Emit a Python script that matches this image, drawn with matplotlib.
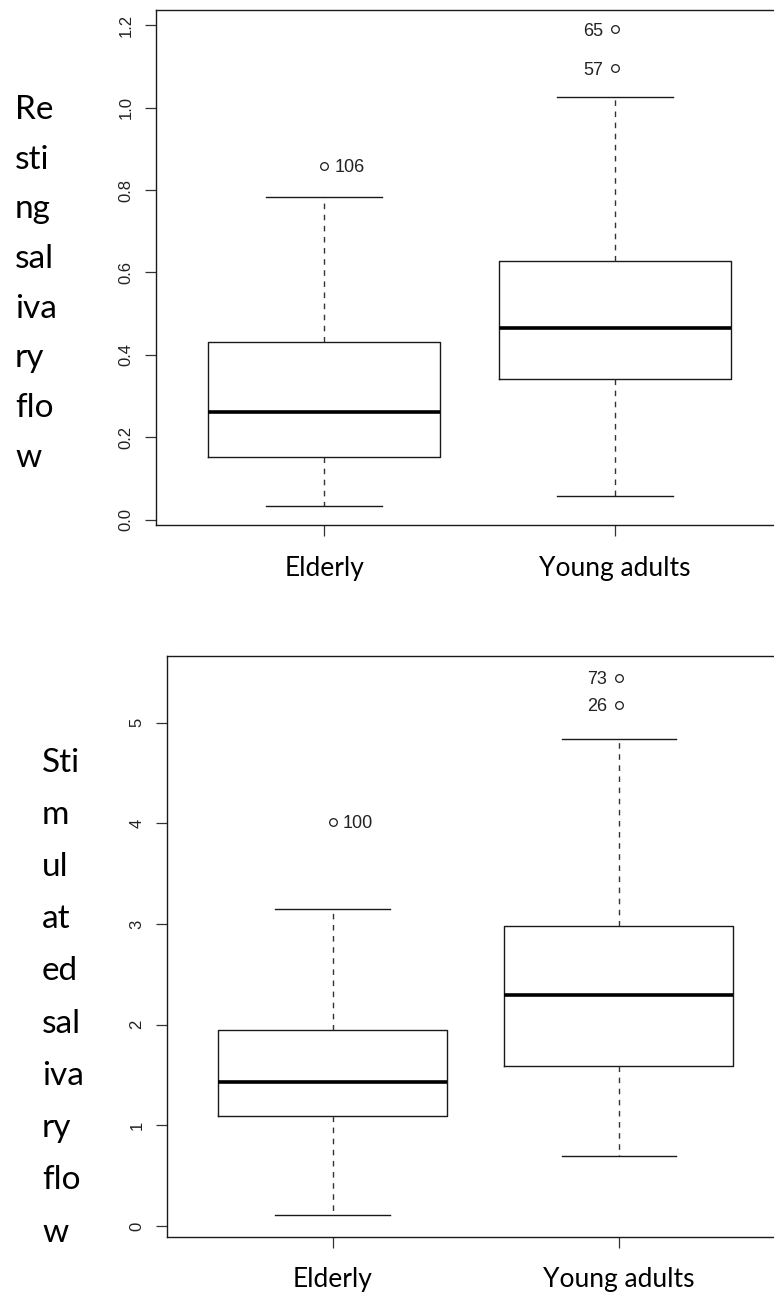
import matplotlib
matplotlib.use("Agg")
import matplotlib.pyplot as plt

# group names on the x axis
groups = ["Elderly", "Young adults"]

# resting salivary flow: box statistics
rest_lo = [0.033, 0.056]
rest_q1 = [0.152, 0.342]
rest_med = [0.260, 0.464]
rest_q3 = [0.430, 0.627]
rest_hi = [0.783, 1.027]
rest_out = [[0.859], [1.096, 1.191]]
rest_out_ids = [["106"], ["57", "65"]]
rest_ticks = [0.0, 0.2, 0.4, 0.6, 0.8, 1.0, 1.2]
rest_tick_labels = ["0.0", "0.2", "0.4", "0.6", "0.8", "1.0", "1.2"]

# stimulated salivary flow
stim_lo = [0.108, 0.700]
stim_q1 = [1.094, 1.587]
stim_med = [1.429, 2.291]
stim_q3 = [1.951, 2.983]
stim_hi = [3.152, 4.838]
stim_out = [[4.014], [5.178, 5.447]]
stim_out_ids = [["100"], ["26", "73"]]
stim_ticks = [0, 1, 2, 3, 4, 5]
stim_tick_labels = ["0", "1", "2", "3", "4", "5"]

# the y labels are broken into short pieces, one per line
rest_label = ["Re", "sti", "ng", "sal", "iva", "ry", "flo", "w"]
stim_label = ["Sti", "m", "ul", "at", "ed", "sal", "iva", "ry", "flo", "w"]

W, H = 774, 1292
fig = plt.figure(figsize=(W / 100, H / 100), dpi=100)

LINE = "#1a1a1a"
NUM_FONT = "Liberation Sans"
TXT_FONT = "Lato"


def px_rect(left, top, right, bottom):
    return [left / W, 1 - bottom / H, (right - left) / W, (bottom - top) / H]


def draw_panel(rect, lo, q1, med, q3, hi, out, ids, ticks, tick_labels):
    ax = fig.add_axes(rect)
    stats = []
    for i, name in enumerate(groups):
        stats.append(dict(whislo=lo[i], q1=q1[i], med=med[i], q3=q3[i],
                          whishi=hi[i], fliers=out[i], label=name))
    ax.bxp(stats, positions=[1, 2], widths=0.8, capwidths=0.4,
           showcaps=True, showfliers=True, manage_ticks=False,
           boxprops=dict(color=LINE, linewidth=1.0),
           medianprops=dict(color="black", linewidth=2.6, solid_capstyle="butt"),
           whiskerprops=dict(color="#333333", linewidth=1.0, linestyle=(0, (4, 4))),
           capprops=dict(color=LINE, linewidth=1.0),
           flierprops=dict(marker="o", markerfacecolor="none", markeredgecolor=LINE,
                           markersize=5.5, markeredgewidth=0.9))

    # R style 4% padding around data
    allv = lo + hi + [v for grp in out for v in grp]
    span = max(allv) - min(allv)
    ax.set_ylim(min(allv) - 0.04 * span, max(allv) + 0.04 * span)
    ax.set_xlim(0.42, 2.58)

    # outlier ids: right of the point for the first group, left for the second
    for gi, (vals, labs) in enumerate(zip(out, ids)):
        for v, t in zip(vals, labs):
            if gi == 0:
                ax.annotate(t, (gi + 1, v), xytext=(7.5, 0), textcoords="offset points",
                            ha="left", va="center_baseline", fontsize=13,
                            family=NUM_FONT, color="#222222")
            else:
                ax.annotate(t, (gi + 1, v), xytext=(-8.5, 0), textcoords="offset points",
                            ha="right", va="center_baseline", fontsize=13,
                            family=NUM_FONT, color="#222222")

    ax.set_yticks(ticks, labels=tick_labels)
    ax.set_xticks([1, 2], labels=groups)
    ax.tick_params(axis="y", length=8, width=0.9, color="#333333", pad=8,
                   labelsize=12, labelcolor="#222222", labelrotation=90)
    ax.tick_params(axis="x", length=8, width=0.9, color="#333333", pad=14,
                   labelsize=19, labelcolor="black")
    for lab in ax.get_yticklabels():
        lab.set_family(NUM_FONT)
        lab.set_va("center")
    for lab in ax.get_xticklabels():
        lab.set_family(TXT_FONT)
    for sp in ax.spines.values():
        sp.set_linewidth(1.0)
        sp.set_color(LINE)
    return ax


draw_panel(px_rect(156, 10, 783, 525), rest_lo, rest_q1, rest_med, rest_q3, rest_hi,
           rest_out, rest_out_ids, rest_ticks, rest_tick_labels)
draw_panel(px_rect(166.6, 656, 785, 1236.7), stim_lo, stim_q1, stim_med, stim_q3, stim_hi,
           stim_out, stim_out_ids, stim_ticks, stim_tick_labels)

# y labels drawn line by line, left aligned
for i, part in enumerate(rest_label):
    fig.text(15 / W, 1 - (119.3 + i * 49.6) / H, part, ha="left", va="baseline",
             fontsize=24, family=TXT_FONT)
for i, part in enumerate(stim_label):
    fig.text(42 / W, 1 - (771.7 + i * 52.2) / H, part, ha="left", va="baseline",
             fontsize=24, family=TXT_FONT)

fig.savefig("out.png", dpi=100, facecolor="white")
